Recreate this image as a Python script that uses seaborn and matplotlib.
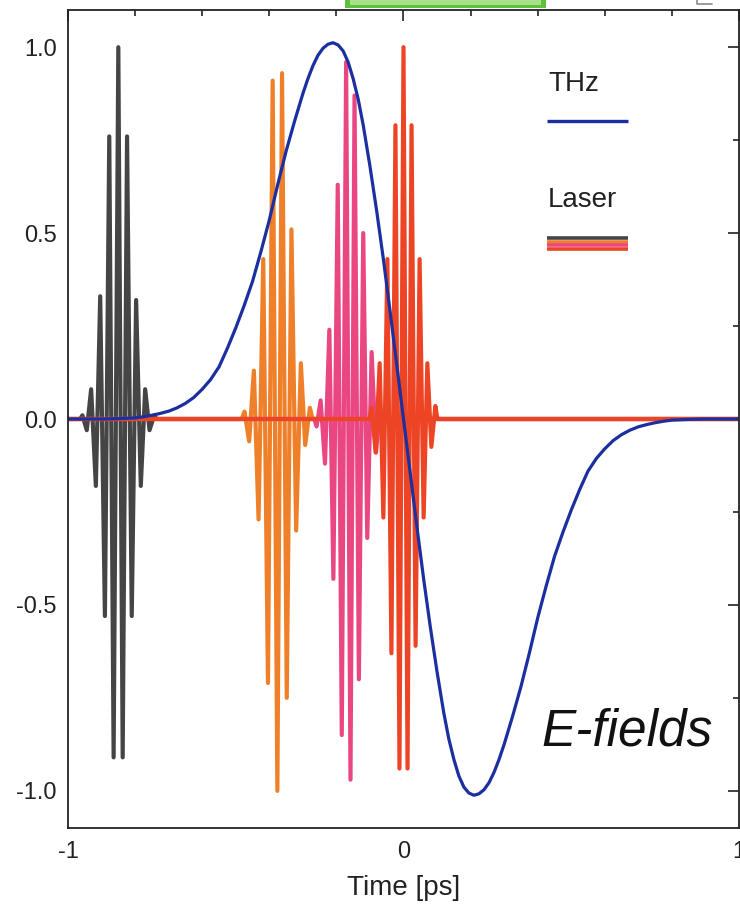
import matplotlib
matplotlib.use("Agg")
import numpy as np
import pandas as pd
import matplotlib.pyplot as plt
import seaborn as sns
from matplotlib.lines import Line2D
from matplotlib.patches import Rectangle
from matplotlib.ticker import MultipleLocator, FixedLocator, FixedFormatter

# ---------------- data ----------------
# THz transient (single-cycle field), time in ps, normalised field
thz_t = [-1.0, -0.90, -0.85, -0.80, -0.775, -0.75, -0.725, -0.70, -0.675, -0.65,
         -0.625, -0.60, -0.575, -0.55, -0.525, -0.50, -0.475, -0.45, -0.425,
         -0.40, -0.375, -0.35, -0.325, -0.30, -0.285, -0.27, -0.255, -0.24,
         -0.225, -0.21, -0.195, -0.18, -0.165, -0.15, -0.135, -0.12, -0.10,
         -0.08, -0.06, -0.04, -0.02, 0.0,
         0.02, 0.04, 0.06, 0.08, 0.10, 0.12, 0.135, 0.15, 0.165, 0.18, 0.195,
         0.21, 0.225, 0.24, 0.255, 0.27, 0.285, 0.30, 0.325, 0.35, 0.375,
         0.40, 0.425, 0.45, 0.475, 0.50, 0.525, 0.55, 0.575, 0.60, 0.625,
         0.65, 0.675, 0.70, 0.725, 0.75, 0.775, 0.80, 0.85, 0.90, 1.0]
thz_e = [0.0, 0.0, 0.001, 0.003, 0.006, 0.01, 0.015, 0.021, 0.03, 0.042,
         0.058, 0.08, 0.106, 0.14, 0.19, 0.245, 0.305, 0.37, 0.45,
         0.535, 0.63, 0.72, 0.80, 0.875, 0.915, 0.95, 0.978, 0.997,
         1.008, 1.012, 1.006, 0.99, 0.96, 0.915, 0.86, 0.79, 0.68,
         0.56, 0.43, 0.29, 0.145, 0.0,
         -0.145, -0.29, -0.43, -0.56, -0.68, -0.79, -0.86, -0.915, -0.96, -0.99, -1.006,
         -1.012, -1.008, -0.997, -0.978, -0.95, -0.915, -0.875, -0.80, -0.72, -0.63,
         -0.535, -0.45, -0.37, -0.305, -0.245, -0.19, -0.14, -0.106, -0.08, -0.058,
         -0.042, -0.03, -0.021, -0.015, -0.01, -0.006, -0.003, -0.001, 0.0, 0.0]

# Laser pulses at four delays: carrier extrema (time in ps, field)
pulse1_t = [-1.0, -0.964, -0.957, -0.944, -0.931, -0.917, -0.904, -0.890, -0.877,
            -0.864, -0.850, -0.837, -0.824, -0.810, -0.797, -0.783, -0.770,
            -0.757, -0.743, -0.736, 1.0]
pulse1_e = [0.0, 0.0, 0.01, -0.03, 0.08, -0.18, 0.33, -0.53, 0.76,
            -0.91, 1.0, -0.91, 0.76, -0.53, 0.32, -0.18, 0.08,
            -0.03, 0.01, 0.0, 0.0]

pulse2_t = [-1.0, -0.482, -0.474, -0.460, -0.446, -0.432, -0.418, -0.404, -0.390,
            -0.376, -0.362, -0.348, -0.334, -0.320, -0.306, -0.293, -0.279,
            -0.271, 1.0]
pulse2_e = [0.0, 0.0, 0.02, -0.06, 0.13, -0.27, 0.43, -0.71, 0.91,
            -1.0, 0.93, -0.75, 0.51, -0.30, 0.15, -0.07, 0.03,
            0.0, 0.0]

pulse3_t = [-1.0, -0.266, -0.259, -0.247, -0.234, -0.221, -0.209, -0.196, -0.184,
            -0.171, -0.158, -0.146, -0.133, -0.120, -0.108, -0.095, -0.082,
            -0.070, -0.063, 1.0]
pulse3_e = [0.0, 0.0, -0.02, 0.05, -0.12, 0.24, -0.43, 0.63, -0.85,
            0.96, -0.97, 0.87, -0.70, 0.50, -0.32, 0.18, -0.09,
            0.03, 0.0, 0.0]

pulse4_t = [-1.0, -0.101, -0.095, -0.083, -0.071, -0.060, -0.048, -0.036, -0.024,
            -0.012, 0.0, 0.012, 0.024, 0.036, 0.048, 0.060, 0.071, 0.083,
            0.095, 0.101, 1.0]
pulse4_e = [0.0, 0.0, 0.03, -0.09, 0.15, -0.265, 0.43, -0.63, 0.79,
            -0.94, 1.0, -0.94, 0.79, -0.61, 0.43, -0.265, 0.15, -0.075,
            0.035, 0.0, 0.0]

pulse_names = ["pulse 1", "pulse 2", "pulse 3", "pulse 4"]
pulse_colors = ["#454545", "#f07f2a", "#ea4682", "#ec4424"]
thz_color = "#1c2fa0"

x_major = [-1, 0, 1]
x_major_labels = ["-1", "0", "1"]
y_major = [-1.0, -0.5, 0.0, 0.5, 1.0]
y_major_labels = ["-1.0", "-0.5", "0.0", "0.5", "1.0"]

# ---------------- figure ----------------
sns.set_theme(style="white")
plt.rcParams["font.family"] = ["Liberation Sans", "DejaVu Sans"]

W, H = 740, 916
fig = plt.figure(figsize=(W / 100, H / 100), dpi=100)
ax = fig.add_axes([68 / W, 1 - 828 / H, (739 - 68) / W, (828 - 10) / H])

laser = pd.concat([
    pd.DataFrame({"t": t, "E": e, "pulse": name})
    for name, t, e in zip(pulse_names,
                          [pulse1_t, pulse2_t, pulse3_t, pulse4_t],
                          [pulse1_e, pulse2_e, pulse3_e, pulse4_e])
], ignore_index=True)

sns.lineplot(data=laser, x="t", y="E", hue="pulse", hue_order=pulse_names,
             palette=pulse_colors, estimator=None, sort=False, linewidth=3.0,
             legend=False, ax=ax)

thz = pd.DataFrame({"t": thz_t, "E": thz_e})
sns.lineplot(data=thz, x="t", y="E", color=thz_color, estimator=None,
             sort=False, linewidth=2.3, legend=False, ax=ax)

ax.set_xlim(-1, 1)
ax.set_ylim(-1.1, 1.1)

ink = "#222222"
ax.xaxis.set_major_locator(FixedLocator(x_major))
ax.xaxis.set_major_formatter(FixedFormatter(x_major_labels))
ax.xaxis.set_minor_locator(MultipleLocator(0.2))
ax.yaxis.set_major_locator(FixedLocator(y_major))
ax.yaxis.set_major_formatter(FixedFormatter(y_major_labels))
ax.yaxis.set_minor_locator(MultipleLocator(0.25))
ax.tick_params(which="both", direction="in", top=True, right=True,
               width=1.2, color=ink, labelcolor=ink, labelsize=17)
ax.tick_params(which="major", length=8)
ax.tick_params(which="minor", length=4.5)
ax.tick_params(axis="x", pad=9)
ax.tick_params(axis="y", pad=8)
for s in ax.spines.values():
    s.set_color(ink)
    s.set_linewidth(1.3)

ax.set_xlabel("Time [ps]", fontsize=20, color=ink, labelpad=9)
ax.set_ylabel("")


def fx(px):
    return px / W


def fy(py):
    return 1 - py / H


# legend block
fig.text(fx(548), fy(84), "THz", fontsize=20, color=ink, va="center", ha="left")
fig.add_artist(Line2D([fx(547), fx(628)], [fy(121), fy(121)], color=thz_color,
                      lw=2.4, transform=fig.transFigure, solid_capstyle="butt"))
fig.text(fx(548), fy(200), "Laser", fontsize=20, color=ink, va="center", ha="left")
for yy, c in zip([238, 241.5, 245, 248.5], pulse_colors):
    fig.add_artist(Line2D([fx(547), fx(628)], [fy(yy), fy(yy)], color=c, lw=2.6,
                          transform=fig.transFigure, solid_capstyle="butt"))

fig.text(fx(541), fy(745), "E-fields", fontsize=37, style="italic", color="#111111",
         va="baseline", ha="left")

# strip from the panel above
fig.add_artist(Rectangle((fx(345), fy(8)), fx(546) - fx(345), fy(0) - fy(8),
                         transform=fig.transFigure, facecolor="#5cc23c",
                         edgecolor="none"))
fig.add_artist(Rectangle((fx(350), fy(5)), fx(541) - fx(350), fy(0) - fy(5),
                         transform=fig.transFigure, facecolor="#a8e08c",
                         edgecolor="none"))
fig.add_artist(Line2D([fx(697), fx(697), fx(712)], [fy(0), fy(4), fy(4)],
                      color="#8a8a8a", lw=1.2, transform=fig.transFigure))

fig.savefig("out.png", dpi=100)
